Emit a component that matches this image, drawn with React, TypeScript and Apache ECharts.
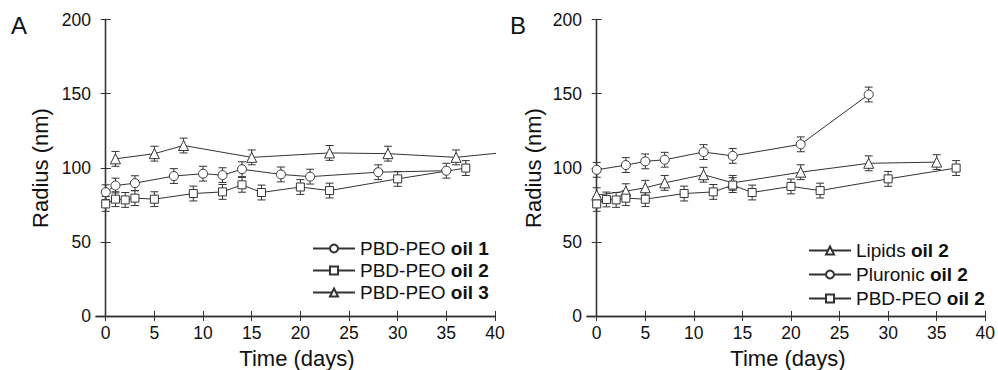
import React, { useEffect, useRef } from "react";
import * as echarts from "echarts";

// ---------- Data (panel A) ----------
const daysA1 = [0, 1, 3, 7, 10, 12, 14, 18, 21, 28, 35];
const radiusA1 = [83.5, 88, 89.6, 94.4, 96, 95, 99, 95.5, 94, 97, 98];
const errA1 = [5, 5, 5, 5, 5, 5, 5, 5, 5, 5, 5];

const daysA2 = [0, 1, 2, 3, 5, 9, 12, 14, 16, 20, 23, 30, 37];
const radiusA2 = [75.6, 78.8, 78.3, 79.5, 78.8, 82.6, 83.7, 88.5, 83.3, 87, 84.6, 92.5, 99.8];
const errA2 = [5, 5, 5, 5, 5, 5, 5, 5, 5, 5, 5, 5, 5];

const daysA3 = [1, 5, 8, 15, 23, 29, 36, 42];
const radiusA3 = [106, 109.5, 115, 107, 110, 109.5, 107, 111];
const errA3 = [5, 5, 5, 5, 5, 5, 5, 0];

// ---------- Data (panel B) ----------
const daysLipids = [0, 3, 5, 7, 11, 14, 21, 28, 35];
const radiusLipids = [81.5, 84.2, 86.5, 89.8, 95.3, 89.8, 97, 103, 103.8];
const errLipids = [5, 5, 5, 5, 5, 5, 5, 5, 5];

const daysPluronic = [0, 3, 5, 7, 11, 14, 21, 28];
const radiusPluronic = [98.6, 101.8, 104.3, 105.4, 110.6, 108, 115.8, 149.4];
const errPluronic = [5, 5, 5, 5, 5, 5, 5, 5];

const daysB2 = [0, 1, 2, 3, 5, 9, 12, 14, 16, 20, 23, 30, 37];
const radiusB2 = [75.6, 78.6, 78.3, 79.5, 78.8, 82.6, 83.7, 88.3, 83.3, 87.4, 84.6, 92.5, 99.8];
const errB2 = [5, 5, 5, 5, 5, 5, 5, 5, 5, 5, 5, 5, 5];

const xTicks = [0, 5, 10, 15, 20, 25, 30, 35, 40];
const yTicks = [0, 50, 100, 150, 200];

const legendA = ["A|PBD-PEO |oil 1", "A|PBD-PEO |oil 2", "A|PBD-PEO |oil 3"];
const legendB = ["B|Lipids |oil 2", "B|Pluronic |oil 2", "B|PBD-PEO |oil 2"];

const FONT = "Liberation Sans, Arial, Helvetica, sans-serif";
const INK = "#333";

function pairs(xs: number[], ys: number[]) {
  return xs.map((x, i) => [x, ys[i]]);
}
function errData(xs: number[], ys: number[], es: number[]) {
  return xs
    .map((x, i) => [x, ys[i] - es[i], ys[i] + es[i]])
    .filter((_, i) => es[i] > 0);
}

export default function App() {
  const ref = useRef<HTMLDivElement>(null);

  useEffect(() => {
    if (!ref.current) return;
    const chart = echarts.init(ref.current, undefined, { renderer: "svg" });

    const axisLine = { show: true, lineStyle: { color: INK, width: 1.3 } };

    const mkX = (grid: number) => [
      {
        type: "value",
        gridIndex: grid,
        position: "bottom",
        min: -1,
        max: 40,
        axisLine,
        axisTick: { show: true, inside: true, length: 5, customValues: xTicks, lineStyle: { color: INK } },
        axisLabel: { show: true, customValues: xTicks, margin: 8, fontSize: 17.5, color: "#111", fontFamily: FONT },
        splitLine: { show: false },
      },
      {
        type: "value",
        gridIndex: grid,
        position: "top",
        min: -1,
        max: 40,
        axisLine,
        axisTick: { show: true, inside: true, length: 5, customValues: xTicks, lineStyle: { color: INK } },
        axisLabel: { show: false },
        splitLine: { show: false },
      },
    ];
    const mkY = (grid: number) => [
      {
        type: "value",
        gridIndex: grid,
        position: "left",
        min: 0,
        max: 200,
        interval: 50,
        axisLine,
        axisTick: { show: true, inside: true, length: 5, customValues: yTicks, lineStyle: { color: INK } },
        axisLabel: { show: true, customValues: yTicks, margin: 5, fontSize: 17.5, color: "#111", fontFamily: FONT },
        splitLine: { show: false },
      },
      {
        type: "value",
        gridIndex: grid,
        position: "right",
        min: 0,
        max: 200,
        interval: 50,
        axisLine,
        axisTick: { show: true, inside: true, length: 5, lineStyle: { color: INK } },
        axisLabel: { show: false },
        splitLine: { show: false },
      },
    ];

    const lineSeries = (name: string, xs: number[], ys: number[], symbol: string, size: number, xi: number, yi: number) => ({
      type: "line",
      name,
      data: pairs(xs, ys),
      xAxisIndex: xi,
      yAxisIndex: yi,
      symbol,
      symbolSize: size,
      showAllSymbol: true,
      clip: true,
      z: 3,
      lineStyle: { color: INK, width: 1 },
      itemStyle: { color: "#fff", borderColor: INK, borderWidth: 1 },
    });

    const errSeries = (xs: number[], ys: number[], es: number[], xi: number, yi: number) => ({
      type: "custom",
      data: errData(xs, ys, es),
      xAxisIndex: xi,
      yAxisIndex: yi,
      z: 2,
      clip: true,
      silent: true,
      renderItem: (params: any, api: any) => {
        const x = api.value(0);
        const lo = api.coord([x, api.value(1)]);
        const hi = api.coord([x, api.value(2)]);
        const w = 4;
        const style = { stroke: INK, lineWidth: 1 };
        return {
          type: "group",
          children: [
            { type: "line", shape: { x1: lo[0], y1: lo[1], x2: hi[0], y2: hi[1] }, style },
            { type: "line", shape: { x1: lo[0] - w, y1: lo[1], x2: lo[0] + w, y2: lo[1] }, style },
            { type: "line", shape: { x1: hi[0] - w, y1: hi[1], x2: hi[0] + w, y2: hi[1] }, style },
          ],
        };
      },
    });

    const legendFmt = (name: string) => {
      const parts = name.split("|");
      return `{n|${parts[1]}}{b|${parts[2]}}`;
    };
    const legendText = {
      fontFamily: FONT,
      color: "#111",
      rich: {
        n: { fontSize: 19, fontFamily: FONT, color: "#111", lineHeight: 18 },
        b: { fontSize: 19, fontFamily: FONT, color: "#111", fontWeight: "bold", lineHeight: 18 },
      },
    };

    const option: any = {
      animation: false,
      backgroundColor: "#fff",
      grid: [
        { left: 96, right: 503, top: 19.5, bottom: 54 },
        { left: 587, right: 12, top: 19.5, bottom: 54 },
      ],
      xAxis: [...mkX(0), ...mkX(1)],
      yAxis: [...mkY(0), ...mkY(1)],
      legend: [
        {
          data: legendA,
          orient: "vertical",
          left: 307,
          top: 234,
          itemWidth: 42,
          itemHeight: 10,
          itemGap: 3,
          formatter: legendFmt,
          textStyle: legendText,
          selectedMode: false,
        },
        {
          data: legendB,
          orient: "vertical",
          left: 803,
          top: 236,
          itemWidth: 42,
          itemHeight: 10,
          itemGap: 5,
          formatter: legendFmt,
          textStyle: legendText,
          selectedMode: false,
        },
      ],
      graphic: [
        { type: "text", left: 11, top: 13, style: { text: "A", font: `24px ${FONT}`, fill: "#111" } },
        { type: "text", left: 510, top: 13, style: { text: "B", font: `24px ${FONT}`, fill: "#111" } },
        {
          type: "text",
          x: 40,
          y: 168,
          rotation: Math.PI / 2,
          style: { text: "Radius (nm)", font: `22px ${FONT}`, fill: "#111", align: "center", verticalAlign: "middle" },
        },
        {
          type: "text",
          x: 533,
          y: 168,
          rotation: Math.PI / 2,
          style: { text: "Radius (nm)", font: `22px ${FONT}`, fill: "#111", align: "center", verticalAlign: "middle" },
        },
        {
          type: "text",
          x: 297,
          y: 358,
          style: { text: "Time (days)", font: `22px ${FONT}`, fill: "#111", align: "center", verticalAlign: "middle" },
        },
        {
          type: "text",
          x: 788,
          y: 358,
          style: { text: "Time (days)", font: `22px ${FONT}`, fill: "#111", align: "center", verticalAlign: "middle" },
        },
      ],
      series: [
        errSeries(daysA1, radiusA1, errA1, 0, 0),
        errSeries(daysA2, radiusA2, errA2, 0, 0),
        errSeries(daysA3, radiusA3, errA3, 0, 0),
        lineSeries(legendA[0], daysA1, radiusA1, "circle", 9, 0, 0),
        lineSeries(legendA[1], daysA2, radiusA2, "rect", 8, 0, 0),
        lineSeries(legendA[2], daysA3, radiusA3, "triangle", 10, 0, 0),
        errSeries(daysLipids, radiusLipids, errLipids, 2, 2),
        errSeries(daysPluronic, radiusPluronic, errPluronic, 2, 2),
        errSeries(daysB2, radiusB2, errB2, 2, 2),
        lineSeries(legendB[0], daysLipids, radiusLipids, "triangle", 10, 2, 2),
        lineSeries(legendB[1], daysPluronic, radiusPluronic, "circle", 9, 2, 2),
        lineSeries(legendB[2], daysB2, radiusB2, "rect", 8, 2, 2),
      ],
    };

    chart.setOption(option);
    return () => chart.dispose();
  }, []);

  return <div ref={ref} style={{ width: 998, height: 370, position: "absolute", left: 0, top: 0 }} />;
}
